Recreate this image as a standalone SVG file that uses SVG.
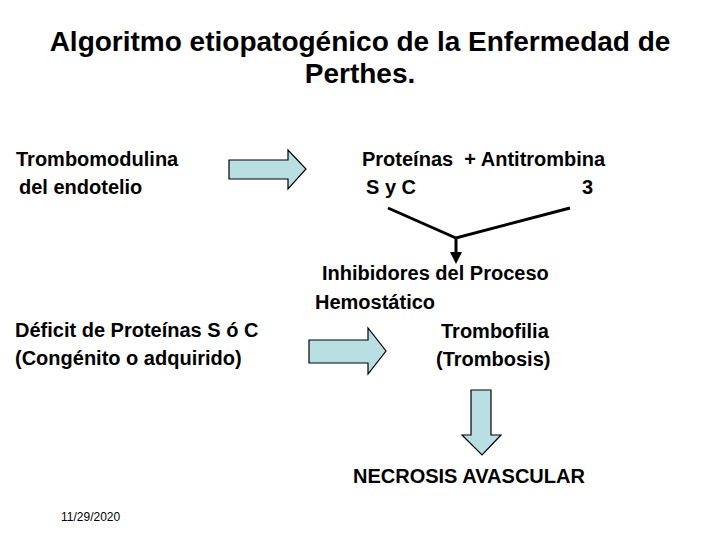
<svg xmlns="http://www.w3.org/2000/svg" width="720" height="540" viewBox="0 0 720 540">
<style>
.t{font-family:"Liberation Sans",Arial,sans-serif;font-weight:bold;font-size:20px;fill:#000}
.title{font-family:"Liberation Sans",Arial,sans-serif;font-weight:bold;font-size:28px;fill:#000}
.blk{fill:#b9dfe2;stroke:#000;stroke-width:1.2}
.ln{stroke:#000;stroke-width:3;fill:none}
</style>
<defs>
<marker id="ah" markerWidth="4" markerHeight="4" refX="2" refY="2" orient="auto" markerUnits="strokeWidth">
<path d="M0,0 L4,2 L0,4 z" fill="#000"/>
</marker>
</defs>
<rect width="720" height="540" fill="#fff"/>
<g id="title">
<text class="title" x="360" y="51" text-anchor="middle">Algoritmo etiopatogénico de la Enfermedad de</text>
<text class="title" x="360" y="83" text-anchor="middle">Perthes.</text>
</g>
<g id="n-trombomodulina">
<text class="t" x="16" y="166">Trombomodulina</text>
<text class="t" x="19" y="194">del endotelio</text>
</g>
<g id="n-proteinas">
<text class="t" x="362" y="166" xml:space="preserve">Proteínas  + Antitrombina</text>
<text class="t" x="366" y="194">S y C</text>
<text class="t" x="582" y="194">3</text>
</g>
<g id="n-inhibidores">
<text class="t" x="322" y="280">Inhibidores del Proceso</text>
<text class="t" x="315" y="309">Hemostático</text>
</g>
<g id="n-deficit">
<text class="t" x="15" y="337">Déficit de Proteínas S ó C</text>
<text class="t" x="15" y="365">(Congénito o adquirido)</text>
</g>
<g id="n-trombofilia">
<text class="t" x="441" y="338">Trombofilia</text>
<text class="t" x="436" y="366">(Trombosis)</text>
</g>
<g id="n-necrosis">
<text class="t" x="353" y="483">NECROSIS AVASCULAR</text>
</g>
<g id="connectors">
<polygon class="blk" points="229,160 288,160 288,150 306,169 288,189 288,179 229,179"/>
<polygon class="blk" points="309,340 368,340 368,328 386,351 368,374 368,363 309,363"/>
<polygon class="blk" points="471,390 491,390 491,435 501,435 482,455 462,435 471,435"/>
<polyline class="ln" points="388,208 456,238 570,208"/>
<line class="ln" x1="456" y1="237" x2="456" y2="258" stroke-width="2.5" marker-end="url(#ah)"/>
</g>
<text x="61" y="521" font-family="Liberation Sans,Arial,sans-serif" font-size="12" fill="#000">11/29/2020</text>
</svg>
